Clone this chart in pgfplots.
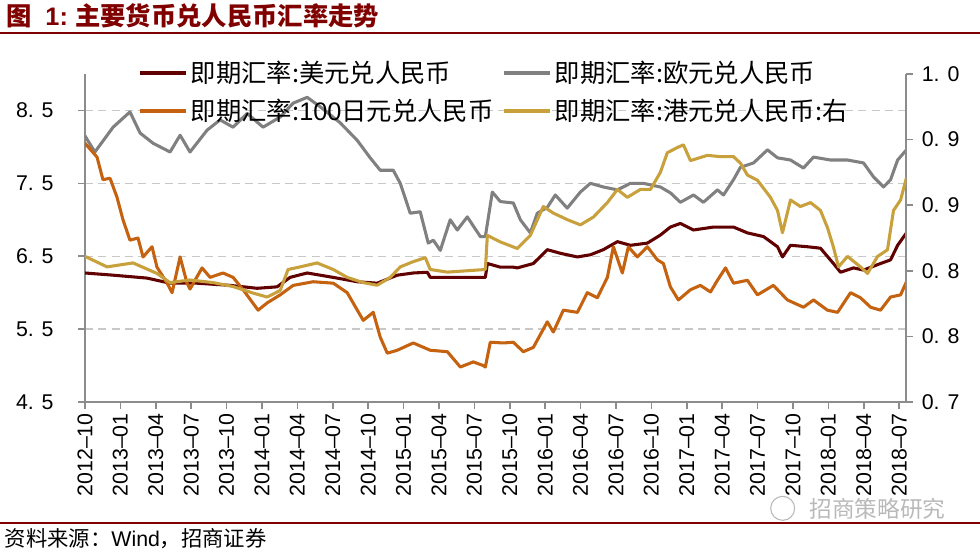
\documentclass[border=0pt]{standalone}
\usepackage{pgfplots}
\pgfplotsset{compat=1.18}
\usepackage{fontspec}
\setmainfont{Liberation Sans}
\newfontfamily\cjk{Noto Sans CJK SC}

\definecolor{usd}{RGB}{96,0,0}
\definecolor{eur}{RGB}{128,128,128}
\definecolor{jpy}{RGB}{196,98,16}
\definecolor{hkd}{RGB}{200,160,60}
\definecolor{brand}{RGB}{128,0,0}
\definecolor{axisgray}{RGB}{140,140,140}
\definecolor{gridgray}{RGB}{200,200,200}

% x = months since 2012-10
\pgfplotsset{
  base/.style={
    at={(63.75pt,111.75pt)}, anchor=south west,
    scale only axis, width=616.1pt, height=246pt,
    xmin=0, xmax=69.62,
    tick align=outside, major tick length=5pt,
    axis line style={-, axisgray, line width=1.5pt},
    tick style={axisgray, line width=1.2pt},
    tick label style={font=\fontsize{16}{18}\selectfont},
  },
  ser/.style={line width=2.3pt, line join=round, no markers},
}

\begin{document}
\begin{tikzpicture}
\path[use as bounding box] (0,0) rectangle (735pt,413.25pt);

% title and rules
\node[anchor=west, text=brand, font=\fontsize{19}{22}\selectfont\bfseries] at (1pt,401.25pt)
  {\cjk 图\rmfamily\ \ 1:\ \cjk 主要货币兑人民币汇率走势};
\draw[brand, line width=1.5pt] (0,388.5pt) -- (735pt,388.5pt);
\draw[brand, line width=1.5pt] (0,21pt) -- (735pt,21pt);
\node[anchor=west, font=\fontsize{16}{18}\selectfont] at (0pt,9pt)
  {\cjk 资料来源：\rmfamily Wind\cjk ，招商证券};
\node[text=gray!55, font=\fontsize{17}{17}\selectfont\cjk] at (658pt,31.5pt) {招商策略研究};
\draw[gray!55, line width=0.8pt] (587pt,32pt) circle (9pt);

\begin{axis}[base,
  axis x line*=bottom, axis y line*=left,
  ymin=4.5, ymax=9.0,
  ytick={4.5,5.5,6.5,7.5,8.5},
  yticklabels={4. 5,5. 5,6. 5,7. 5,8. 5},
  ymajorgrids,
  grid style={gridgray, line width=1pt, dash pattern=on 6pt off 4pt},
  xtick={0,3,...,69},
  xticklabels={2012–10,2013–01,2013–04,2013–07,2013–10,2014–01,2014–04,2014–07,2014–10,
    2015–01,2015–04,2015–07,2015–10,2016–01,2016–04,2016–07,2016–10,2017–01,2017–04,
    2017–07,2017–10,2018–01,2018–04,2018–07},
  xticklabel style={rotate=90, anchor=east},
  yticklabel style={xshift=-15pt},
]
% USD/CNY
\addplot[ser, usd] coordinates {
(0,6.27) (2.38,6.24) (5.26,6.20) (7.21,6.13) (9.50,6.13) (12.30,6.10) (14.59,6.06)
(16.28,6.08) (17.38,6.21) (18.83,6.27) (19.93,6.24) (21.37,6.20) (23.07,6.15) (24.76,6.13)
(26.46,6.24) (27.82,6.27) (29.01,6.28) (29.26,6.21) (30.71,6.21) (33.93,6.21) (34.10,6.40)
(35.20,6.35) (36.30,6.35) (36.64,6.34) (38.00,6.40) (39.18,6.59) (40.29,6.54) (41.73,6.49)
(42.83,6.52) (43.93,6.59) (45.12,6.70) (46.22,6.65) (47.66,6.68) (48.76,6.79) (49.61,6.90)
(50.46,6.95) (51.57,6.86) (53.26,6.90) (54.96,6.90) (56.14,6.82) (57.50,6.77) (58.69,6.63)
(59.11,6.49) (59.79,6.65) (61.23,6.63) (62.33,6.61) (63.43,6.40) (64.03,6.28) (65.13,6.34)
(65.98,6.31) (67.42,6.40) (68.27,6.45) (68.87,6.65) (69.62,6.82)
};
% EUR/CNY
\addplot[ser, eur] coordinates {
(0,8.15) (0.84,7.93) (2.38,8.27) (3.81,8.48) (4.67,8.19) (5.77,8.05) (7.21,7.93)
(8.06,8.16) (8.90,7.93) (10.35,8.23) (11.45,8.37) (12.55,8.27) (13.74,8.46) (15.09,8.27)
(16.54,8.41) (17.64,8.60) (18.83,8.68) (19.93,8.55) (21.63,8.33) (23.07,8.09) (24.17,7.85)
(25.02,7.68) (26.12,7.68) (26.72,7.50) (27.56,7.09) (28.41,7.11) (29.09,6.68) (29.52,6.72)
(30.11,6.58) (30.95,7.00) (31.55,6.86) (32.40,7.04) (33.50,6.77) (33.93,6.77) (34.52,7.38)
(35.20,7.25) (36.30,7.23) (36.90,7.00) (37.74,6.82) (38.33,7.09) (39.18,7.17) (39.86,7.34)
(40.87,7.16) (41.98,7.38) (42.83,7.50) (43.93,7.45) (45.12,7.41) (46.22,7.50) (47.32,7.50)
(48.76,7.45) (49.61,7.37) (50.46,7.24) (51.57,7.34) (52.41,7.24) (53.60,7.41) (54.11,7.34)
(54.96,7.55) (55.55,7.72) (56.66,7.78) (57.84,7.96) (58.69,7.85) (59.79,7.82) (60.89,7.71)
(61.74,7.86) (63.18,7.82) (64.62,7.82) (65.98,7.78) (66.82,7.59) (67.68,7.45) (68.27,7.55)
(68.87,7.82) (69.62,7.96)
};
% 100JPY/CNY
\addplot[ser, jpy] coordinates {
(0,8.05) (1.02,7.86) (1.52,7.55) (2.12,7.57) (2.71,7.31) (3.22,7.00) (3.81,6.72)
(4.49,6.75) (4.92,6.49) (5.68,6.63) (6.10,6.35) (6.96,6.13) (7.38,6.00) (8.06,6.49)
(8.65,6.13) (8.90,6.05) (9.92,6.34) (10.60,6.21) (11.70,6.27) (12.55,6.21) (13.40,6.04)
(14.67,5.76) (15.44,5.86) (16.54,5.97) (17.64,6.10) (19.34,6.15) (21.04,6.13) (22.22,6.00)
(23.58,5.62) (24.43,5.73) (25.02,5.39) (25.62,5.17) (26.46,5.21) (27.82,5.31) (29.26,5.21)
(30.71,5.19) (31.81,4.98) (32.91,5.05) (33.75,5.00) (33.93,4.98) (34.35,5.32) (35.45,5.31)
(36.30,5.32) (37.15,5.19) (38.00,5.25) (39.18,5.60) (39.69,5.46) (40.54,5.76) (41.73,5.73)
(42.57,6.00) (43.42,5.93) (44.27,6.21) (44.78,6.63) (45.54,6.27) (46.05,6.63) (46.81,6.49)
(47.66,6.63) (48.51,6.45) (49.02,6.40) (49.61,6.08) (50.29,5.90) (51.31,6.04) (52.15,6.10)
(53.01,6.01) (53.60,6.17) (54.28,6.34) (54.96,6.13) (56.14,6.17) (56.99,5.97) (58.34,6.10)
(59.53,5.90) (60.89,5.80) (61.74,5.90) (62.92,5.76) (63.78,5.73) (64.88,6.00) (65.72,5.93)
(66.58,5.80) (67.42,5.76) (68.27,5.94) (69.12,5.97) (69.62,6.15)
};
\end{axis}

\begin{axis}[base,
  axis x line=none, axis y line*=right,
  ymin=0.70, ymax=0.95,
  ytick={0.7,0.75,0.8,0.85,0.9,0.95},
  yticklabels={0. 7,0. 8,0. 8,0. 9,0. 9,1. 0},
  yticklabel style={xshift=3pt},
  legend columns=2,
  legend cell align=left,
  legend image code/.code={\draw[#1, line width=3pt] (0pt,0pt) -- (35pt,0pt);},
  legend style={draw=none, fill=none, at={(0.0637,1.048)}, anchor=north west,
    inner sep=0pt, row sep=7pt, column sep=0pt,
    font=\fontsize{19}{21}\selectfont, nodes={inner sep=2pt},
    /tikz/every even column/.append style={column sep=4pt}},
]
\addlegendimage{usd}
\addlegendentry{\cjk 即期汇率:美元兑人民币}
\addlegendimage{eur}
\addlegendentry{\cjk 即期汇率:欧元兑人民币}
\addlegendimage{jpy}
\addlegendentry{{\cjk 即期汇率:}100{\cjk 日元兑人民币}}
% HKD/CNY, right axis
\addplot[ser, hkd] coordinates {
(0,0.811) (1.87,0.803) (4.07,0.806) (6.10,0.798) (7.21,0.791) (8.90,0.793) (10.86,0.791)
(12.55,0.788) (14.25,0.783) (15.44,0.780) (16.54,0.785) (17.21,0.801) (18.24,0.803)
(19.67,0.806) (21.04,0.801) (22.22,0.795) (23.58,0.791) (24.76,0.789) (25.87,0.795)
(26.72,0.803) (27.82,0.807) (28.84,0.810) (29.26,0.801) (30.71,0.799) (33.93,0.801)
(34.10,0.827) (35.20,0.822) (36.64,0.817) (37.74,0.827) (38.84,0.849) (39.69,0.844)
(40.87,0.839) (41.98,0.835) (43.09,0.841) (44.27,0.852) (45.12,0.862) (45.96,0.856)
(47.07,0.862) (47.92,0.862) (48.76,0.875) (49.35,0.890) (50.21,0.894) (50.72,0.896)
(51.31,0.884) (52.75,0.888) (53.85,0.887) (54.96,0.887) (55.55,0.882) (56.14,0.873)
(56.99,0.869) (58.09,0.856) (58.69,0.846) (59.11,0.829) (59.79,0.854) (60.63,0.849)
(61.49,0.852) (62.33,0.846) (62.92,0.833) (63.43,0.818) (63.86,0.803) (64.62,0.811)
(65.72,0.803) (66.32,0.798) (67.17,0.811) (68.01,0.816) (68.52,0.846) (69.12,0.854)
(69.62,0.871)
};
\addlegendentry{\cjk 即期汇率:港元兑人民币:右}
\end{axis}
\end{tikzpicture}
\end{document}
